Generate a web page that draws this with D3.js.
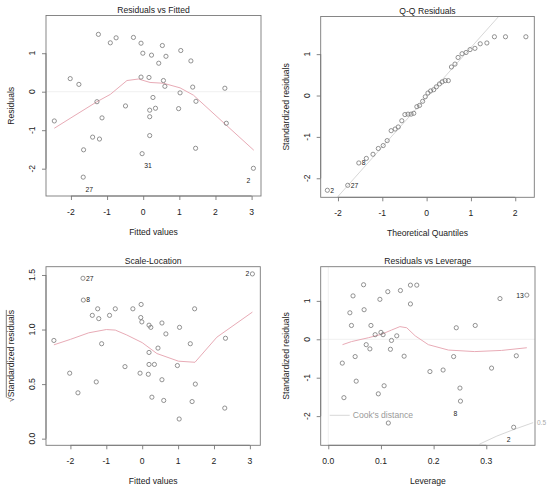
<!DOCTYPE html>
<html>
<head>
<meta charset="utf-8">
<script src="https://cdn.jsdelivr.net/npm/d3@7"></script>
<style>
  body { margin: 0; background: #fff; }
  svg { font-family: "Liberation Sans", Arial, sans-serif; }
</style>
</head>
<body>
<svg id="chart"></svg>
<script>
/*data======================================================================================================*/

// Residuals vs Fitted
var rvfFitted = [-2.46, -2.02, -1.78, -1.65, -1.66, -1.40, -1.28, -1.24, -1.21, -1.14,
  -0.91, -0.75, -0.49, -0.27, -0.06, -0.01, -0.06, -0.03, 0.16, 0.18,
  0.18, 0.18, 0.23, 0.27, 0.34, 0.43, 0.53, 0.56, 0.60, 0.63,
  0.98, 1.02, 1.04, 1.32, 1.37, 1.45, 1.46, 2.26, 2.30, 3.05]
var rvfResid = [-0.76, 0.34, 0.19, -1.51, -2.22, -1.18, -0.26, 1.49, -1.23, -0.68,
  1.27, 1.40, -0.37, 1.41, 1.26, 1.00, 0.38, -1.61, 0.37, -0.48,
  -0.65, -1.14, 0.95, -0.15, -0.43, 0.74, 1.20, 0.29, 0.14, 0.92,
  -0.44, -0.03, 1.07, 0.80, 0.12, -1.47, -0.25, 0.09, -0.82, -1.99]
var rvfSmoothX = [-2.46, -2.0, -1.28, -0.91, -0.45, -0.13, 0.19, 0.56, 1.02, 1.39, 2.3, 3.06]
var rvfSmoothY = [-0.95, -0.68, -0.26, -0.07, 0.29, 0.33, 0.24, 0.22, 0.10, -0.09, -0.87, -1.52]
var rvfIds = ["27", "31", "2"]
var rvfIdIdx = [4, 17, 39]

// Q-Q Residuals
var qqTheo = [-2.24, -1.78, -1.53, -1.36, -1.21, -1.09, -0.98, -0.89, -0.80, -0.71,
  -0.64, -0.56, -0.49, -0.42, -0.35, -0.29, -0.22, -0.16, -0.09, -0.03,
  0.03, 0.09, 0.16, 0.22, 0.29, 0.35, 0.42, 0.49, 0.56, 0.64,
  0.71, 0.80, 0.89, 0.98, 1.09, 1.21, 1.36, 1.53, 1.78, 2.24]
var qqStdRes = [-2.29, -2.17, -1.63, -1.52, -1.42, -1.28, -1.21, -1.09, -0.85, -0.81,
  -0.76, -0.61, -0.46, -0.45, -0.45, -0.43, -0.27, -0.24, -0.14, -0.03,
  0.06, 0.11, 0.14, 0.21, 0.28, 0.33, 0.36, 0.36, 0.69, 0.76,
  0.92, 1.01, 1.04, 1.11, 1.14, 1.25, 1.27, 1.42, 1.42, 1.42]
var qqLine = [-0.04, 1.2] // intercept, slope
var qqIds = ["2", "27", "8"]
var qqIdIdx = [0, 1, 2]

// Scale-Location
var slFitted = [-2.46, -2.02, -1.79, -1.65, -1.64, -1.39, -1.28, -1.24, -1.21, -1.13,
  -0.91, -0.75, -0.48, -0.26, -0.03, -0.04, -0.01, -0.06, 0.19, 0.24,
  0.19, 0.19, 0.17, 0.27, 0.34, 0.44, 0.55, 0.55, 0.60, 0.66,
  0.98, 1.04, 1.03, 1.34, 1.39, 1.46, 1.48, 2.30, 2.32, 3.07]
var slSqrtRes = [0.90, 0.60, 0.42, 1.47, 1.27, 1.13, 0.52, 1.19, 1.10, 0.87,
  1.13, 1.19, 0.66, 1.19, 1.23, 1.11, 1.07, 0.60, 1.04, 1.02,
  0.79, 0.68, 0.59, 0.38, 0.68, 0.83, 1.06, 0.54, 0.35, 0.96,
  0.67, 1.02, 0.18, 0.87, 0.34, 1.19, 0.50, 0.28, 0.92, 1.51]
var slSmoothX = [-2.46, -2.0, -1.49, -1.0, -0.75, -0.43, 0, 0.41, 1.01, 1.47, 2.08, 3.07]
var slSmoothY = [0.86, 0.91, 0.97, 1.00, 0.995, 0.95, 0.88, 0.78, 0.71, 0.70, 0.93, 1.16]
var slIds = ["27", "8", "2"]
var slIdIdx = [3, 4, 39]

// Residuals vs Leverage
var rvlLev = [0.0266, 0.0297, 0.041, 0.044, 0.047, 0.051, 0.053, 0.067, 0.068, 0.072,
  0.079, 0.081, 0.089, 0.095, 0.098, 0.100, 0.104, 0.106, 0.113, 0.114,
  0.118, 0.120, 0.130, 0.137, 0.144, 0.156, 0.156, 0.168, 0.193, 0.218,
  0.238, 0.243, 0.250, 0.251, 0.279, 0.310, 0.326, 0.352, 0.357, 0.377]
var rvlStdRes = [-0.62, -1.52, 0.69, 0.36, 1.13, -0.45, -1.09, 1.42, 0.77, -0.14,
  -0.25, 0.36, 0.12, -1.42, 1.04, 0.18, 0.12, -1.21, 1.24, -2.18,
  -0.26, -0.03, 0.09, 1.27, -0.44, 1.41, 0.92, 1.41, -0.84, -0.80,
  -0.45, 0.30, -1.27, -1.61, 0.36, -0.75, 1.06, -2.29, -0.43, 1.15]
var rvlSmoothX = [0.027, 0.044, 0.076, 0.101, 0.12, 0.136, 0.149, 0.165, 0.19, 0.228, 0.278, 0.329, 0.377]
var rvlSmoothY = [-0.14, -0.06, 0.04, 0.13, 0.24, 0.33, 0.30, 0.09, -0.14, -0.28, -0.32, -0.29, -0.22]
var cookX = [0.287, 0.32, 0.352, 0.389]
var cookY = [-2.73, -2.52, -2.35, -2.17]
var rvlIds = ["13", "8", "2"]
var rvlIdIdx = [39, 33, 37]

/*drawing======================================================================================================*/

var svg = d3.select("#chart").attr("width", 550).attr("height", 493)
var fs = 8.6
var ink = "#222"
var pink = "#e8abb6"

var fmtInt = d => String(d)
var fmt1 = d => d3.format(".1f")(d)

var clipId = 0

function panel(o) {
  var x = d3.scaleLinear().domain(o.xDom).range([o.l, o.r])
  var y = d3.scaleLinear().domain(o.yDom).range([o.b, o.t])
  var g = svg.append("g")
  var id = "clip" + (clipId++)
  g.append("clipPath").attr("id", id)
    .append("rect")
    .attr("x", o.l).attr("y", o.t)
    .attr("width", o.r - o.l).attr("height", o.b - o.t)
  var inner = g.append("g").attr("clip-path", `url(#${id})`)

  //x軸刻度
  var xa = g.append("g")
    .attr("transform", `translate(0,${o.b})`)
    .call(d3.axisBottom(x).tickValues(o.xTicks).tickSize(4).tickSizeOuter(0).tickFormat(""))
  xa.select(".domain").attr("d", `M${x(o.xTicks[0])},0H${x(o.xTicks[o.xTicks.length - 1])}`)
  xa.selectAll("path,line").attr("stroke", "#666").attr("stroke-width", 0.8)

  g.selectAll("text.xt").data(o.xTicks).enter().append("text")
    .attr("class", "xt")
    .attr("x", d => x(d)).attr("y", o.b + 16).attr("dy", "0.35em")
    .attr("text-anchor", "middle")
    .style("font-size", fs + "px").attr("fill", ink)
    .text(o.xFmt)

  //y軸刻度
  var ya = g.append("g")
    .attr("transform", `translate(${o.l},0)`)
    .call(d3.axisLeft(y).tickValues(o.yTicks).tickSize(4).tickSizeOuter(0).tickFormat(""))
  ya.select(".domain").attr("d", `M0,${y(o.yTicks[0])}V${y(o.yTicks[o.yTicks.length - 1])}`)
  ya.selectAll("path,line").attr("stroke", "#666").attr("stroke-width", 0.8)

  g.selectAll("text.yt").data(o.yTicks).enter().append("text")
    .attr("class", "yt")
    .attr("transform", d => `translate(${o.l - 14},${y(d)}) rotate(-90)`)
    .attr("dy", "0.35em")
    .attr("text-anchor", "middle")
    .style("font-size", fs + "px").attr("fill", ink)
    .text(o.yFmt)

  //標題與軸標籤
  g.append("text").text(o.title)
    .attr("x", (o.l + o.r) / 2).attr("y", o.t - 6).attr("dy", "0.35em")
    .attr("text-anchor", "middle")
    .style("font-size", fs + "px").attr("fill", ink)
  g.append("text").text(o.xLab)
    .attr("x", (o.l + o.r) / 2).attr("y", o.b + 36).attr("dy", "0.35em")
    .attr("text-anchor", "middle")
    .style("font-size", fs + "px").attr("fill", ink)
  var yl = g.append("text").text(o.yLab)
    .attr("transform", `translate(${o.l - 35},${(o.t + o.b) / 2}) rotate(-90)`)
    .attr("dy", "0.35em")
    .attr("text-anchor", "middle")
    .style("font-size", fs + "px").attr("fill", ink)

  return { g: g, inner: inner, x: x, y: y, yl: yl }
}

function dots(p, xs, ys) {
  p.inner.selectAll("circle").data(xs).enter().append("circle")
    .attr("cx", d => p.x(d))
    .attr("cy", (d, i) => p.y(ys[i]))
    .attr("r", 2.1)
    .attr("fill", "none")
    .attr("stroke", "#777")
    .attr("stroke-width", 0.8)
}

function curve(p, xs, ys, color, w) {
  var line = d3.line().x(d => p.x(d)).y((d, i) => p.y(ys[i]))
  p.inner.append("path")
    .datum(xs)
    .attr("d", line)
    .attr("fill", "none")
    .attr("stroke", color)
    .attr("stroke-width", w)
}

function hline(p, v) {
  p.inner.append("line")
    .attr("x1", p.x.range()[0]).attr("x2", p.x.range()[1])
    .attr("y1", p.y(v)).attr("y2", p.y(v))
    .attr("stroke", "#ececec").attr("stroke-width", 0.8)
}

function box(p) {
  p.g.append("rect")
    .attr("x", p.x.range()[0]).attr("y", p.y.range()[1])
    .attr("width", p.x.range()[1] - p.x.range()[0])
    .attr("height", p.y.range()[0] - p.y.range()[1])
    .attr("fill", "none").attr("stroke", "#7a7a7a").attr("stroke-width", 0.9)
}

// side: "r" 右, "l" 左, "bl"/"br" 下方
function ids(p, xs, ys, idx, txt, sides) {
  idx.forEach((k, j) => {
    var px = p.x(xs[k]), py = p.y(ys[k])
    var s = sides[j]
    var t = p.g.append("text").text(txt[j])
      .style("font-size", "6.8px").attr("fill", ink).attr("dy", "0.35em")
    if (s == "r") t.attr("x", px + 3).attr("y", py).attr("text-anchor", "start")
    if (s == "l") t.attr("x", px - 3).attr("y", py).attr("text-anchor", "end")
    if (s == "br") t.attr("x", px + 6).attr("y", py + 12).attr("text-anchor", "middle")
    if (s == "bl") t.attr("x", px - 5).attr("y", py + 12).attr("text-anchor", "middle")
  })
}

/*panel 1======================================================================================================*/
var p1 = panel({
  l: 46, t: 15.5, r: 261, b: 196,
  xDom: [-2.69, 3.26], yDom: [-2.71, 1.98],
  xTicks: [-2, -1, 0, 1, 2, 3], yTicks: [-2, -1, 0, 1],
  xFmt: fmtInt, yFmt: fmtInt,
  title: "Residuals vs Fitted", xLab: "Fitted values", yLab: "Residuals"
})
hline(p1, 0)
curve(p1, rvfSmoothX, rvfSmoothY, pink, 1)
dots(p1, rvfFitted, rvfResid)
box(p1)
ids(p1, rvfFitted, rvfResid, rvfIdIdx, rvfIds, ["br", "br", "bl"])

/*panel 2======================================================================================================*/
var p2 = panel({
  l: 320.7, t: 16.5, r: 534.3, b: 197.3,
  xDom: [-2.39, 2.43], yDom: [-2.46, 1.91],
  xTicks: [-2, -1, 0, 1, 2], yTicks: [-2, -1, 0, 1],
  xFmt: fmtInt, yFmt: fmtInt,
  title: "Q-Q Residuals", xLab: "Theoretical Quantiles", yLab: "Standardized residuals"
})
curve(p2, [-3, 3], [qqLine[0] - 3 * qqLine[1], qqLine[0] + 3 * qqLine[1]], "#d2d2d2", 0.9)
dots(p2, qqTheo, qqStdRes)
box(p2)
ids(p2, qqTheo, qqStdRes, qqIdIdx, qqIds, ["r", "r", "r"])

/*panel 3======================================================================================================*/
var p3 = panel({
  l: 46, t: 266.7, r: 260.3, b: 445.3,
  xDom: [-2.68, 3.29], yDom: [-0.061, 1.576],
  xTicks: [-2, -1, 0, 1, 2, 3], yTicks: [0, 0.5, 1, 1.5],
  xFmt: fmtInt, yFmt: fmt1,
  title: "Scale-Location", xLab: "Fitted values", yLab: ""
})
//根號的y軸標籤
p3.yl.text(null)
p3.yl.append("tspan").text("\u221a")
var under = p3.yl.append("tspan").text("Standardized residuals")
var bb = under.node().getBBox()
p3.g.append("line")
  .attr("transform", p3.yl.attr("transform"))
  .attr("x1", bb.x).attr("x2", bb.x + bb.width)
  .attr("y1", bb.y + 0.3).attr("y2", bb.y + 0.3)
  .attr("stroke", ink).attr("stroke-width", 0.6)
curve(p3, slSmoothX, slSmoothY, pink, 1)
dots(p3, slFitted, slSqrtRes)
box(p3)
ids(p3, slFitted, slSqrtRes, slIdIdx, slIds, ["r", "r", "l"])

/*panel 4======================================================================================================*/
var p4 = panel({
  l: 320.7, t: 266.7, r: 535, b: 445.3,
  xDom: [-0.0144, 0.3925], yDom: [-2.76, 1.89],
  xTicks: [0, 0.1, 0.2, 0.3], yTicks: [-2, -1, 0, 1],
  xFmt: fmt1, yFmt: fmtInt,
  title: "Residuals vs Leverage", xLab: "Leverage", yLab: "Standardized residuals"
})
hline(p4, 0)
p4.inner.append("line")
  .attr("x1", p4.x(0)).attr("x2", p4.x(0))
  .attr("y1", p4.y.range()[0]).attr("y2", p4.y.range()[1])
  .attr("stroke", "#ececec").attr("stroke-width", 0.8)
curve(p4, rvlSmoothX, rvlSmoothY, pink, 1)
curve(p4, cookX, cookY, "#d2d2d2", 0.9)
dots(p4, rvlLev, rvlStdRes)
box(p4)
ids(p4, rvlLev, rvlStdRes, rvlIdIdx, rvlIds, ["l", "bl", "bl"])

//Cook's distance 圖例
var lgY = p4.y.range()[0] - 30
p4.g.append("line")
  .attr("x1", p4.x.range()[0] + 9).attr("x2", p4.x.range()[0] + 29)
  .attr("y1", lgY).attr("y2", lgY)
  .attr("stroke", "#d2d2d2").attr("stroke-width", 0.9)
p4.g.append("text").text("Cook's distance")
  .attr("x", p4.x.range()[0] + 32).attr("y", lgY).attr("dy", "0.35em")
  .style("font-size", fs + "px").attr("fill", "#9a9a9a")
p4.g.append("text").text("0.5")
  .attr("x", p4.x.range()[1] + 2).attr("y", p4.y(cookY[cookY.length - 1])).attr("dy", "0.35em")
  .style("font-size", "6.5px").attr("fill", "#aaa")
</script>
</body>
</html>
